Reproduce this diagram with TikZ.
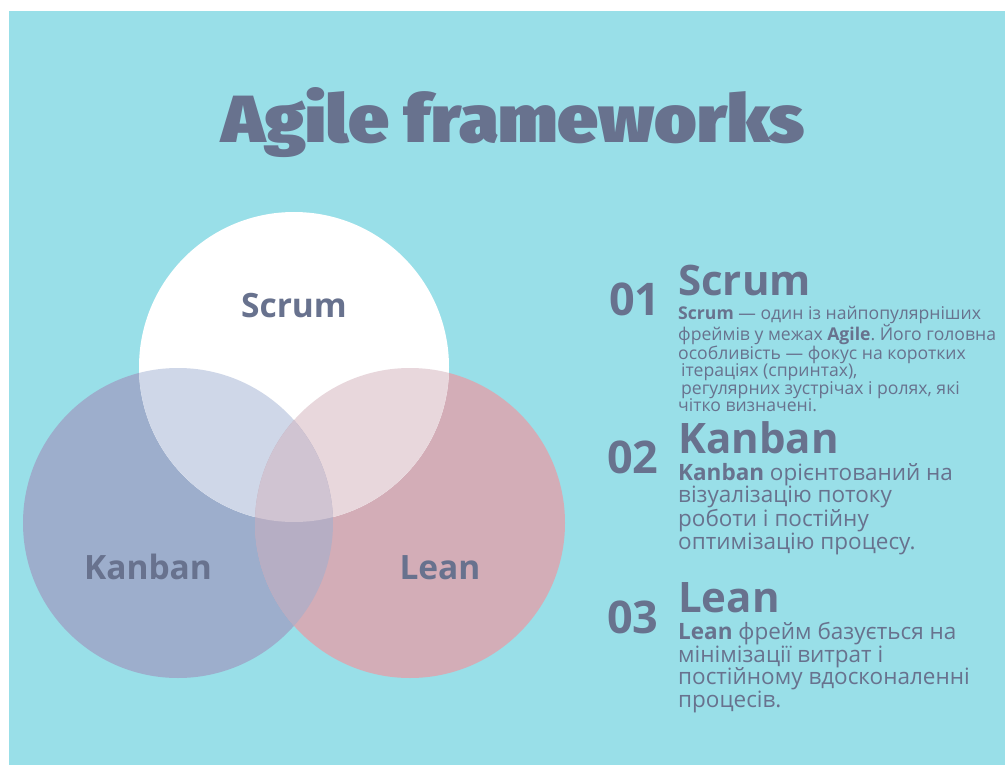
\documentclass[tikz,border=0pt]{standalone}
\usepackage{fontspec}
\usepackage{tikz}
\usetikzlibrary{positioning}
\setmainfont{Open Sans}
\frenchspacing
\IfFontExistsTF{Open Sans ExtraBold}
  {\newfontfamily\headfont{Open Sans ExtraBold}}
  {\newfontfamily\headfont{Open Sans}[UprightFont=* Bold]}
\IfFontExistsTF{Open Sans SemiBold}
  {\newfontfamily\semifont{Open Sans SemiBold}}
  {\newfontfamily\semifont{Open Sans}[UprightFont=* Bold]}
\IfFontExistsTF{Fira Sans Extra Condensed Black}
  {\newfontfamily\titlefont{Fira Sans Extra Condensed Black}}
  {\IfFontExistsTF{Fira Sans Condensed Black}
    {\newfontfamily\titlefont{Fira Sans Condensed Black}}
    {\IfFontExistsTF{Fira Sans Black}
      {\newfontfamily\titlefont{Fira Sans Black}}
      {\newfontfamily\titlefont{Open Sans ExtraBold}}}}
\newcommand{\kw}[1]{{\semifont #1}}

\definecolor{sky}{HTML}{99DFE8}
\definecolor{ink}{HTML}{68728E}
\definecolor{kanbanfill}{HTML}{9DAECC}
\definecolor{leanfill}{HTML}{D3ADB7}
\definecolor{sk}{HTML}{CFD7E8}
\definecolor{sl}{HTML}{E8D7DC}
\definecolor{kl}{HTML}{B6AEC4}
\definecolor{skl}{HTML}{D0C4D2}

\begin{document}
\begin{tikzpicture}[x=1pt,y=-1pt,
    every node/.style={inner sep=0pt,text=ink},
    title/.style={anchor=base,font=\titlefont\fontsize{72}{72}\selectfont},
    circlabel/.style={anchor=base,font=\bfseries\fontsize{33.5}{33.5}\selectfont},
    num/.style={anchor=base west,font=\headfont\fontsize{45}{45}\selectfont},
    head/.style={anchor=base west,font=\headfont\fontsize{42}{42}\selectfont},
    body/.style={anchor=north west,align=left,font=\fontsize{22.5}{22.6}\selectfont},
    smallbody/.style={body,font=\fontsize{17.6}{17.2}\selectfont}]
    \useasboundingbox (0,0) rectangle (1005,765);
    \fill[white] (0,0) rectangle (1005,765);
    \fill[sky] (9,11) rectangle (1005,765);

    % title
    \node[title] (title) at (513,143) {\resizebox{583pt}{55pt}{Agile frameworks}};

    % venn
    \coordinate (S) at (294,367);
    \coordinate (K) at (178,523);
    \coordinate (L) at (410,523);
    \fill[kanbanfill] (K) circle[radius=155pt];
    \fill[leanfill] (L) circle[radius=155pt];
    \fill[white] (S) circle[radius=155pt];
    \begin{scope}
        \clip (S) circle[radius=155pt];
        \fill[sk] (K) circle[radius=155pt];
        \fill[sl] (L) circle[radius=155pt];
    \end{scope}
    \begin{scope}
        \clip (K) circle[radius=155pt];
        \fill[kl] (L) circle[radius=155pt];
        \clip (S) circle[radius=155pt];
        \fill[skl] (L) circle[radius=155pt];
    \end{scope}
    \node[circlabel] (scrum)  at (294,317) {Scrum};
    \node[circlabel] (kanban) at (148,579) {Kanban};
    \node[circlabel] (lean)   at (440,579) {Lean};

    % list on the right
    \node[num]  (n1) at (609,315) {01};
    \node[head] (h1) at (678,295) {Scrum};
    \node[smallbody] (t1) at (678,306) {\kw{Scrum} — один із найпопулярніших\\
        фреймів у межах \kw{Agile}. Його головна\\
        особливість — фокус на коротких\\
        \hspace*{3pt}ітераціях (спринтах),\\
        \hspace*{3pt}регулярних зустрічах і ролях, які\\
        чітко визначені.};

    \node[num]  (n2) at (607,473) {02};
    \node[head] (h2) at (678,453) {Kanban};
    \node[body] (t2) at (678,463) {\kw{Kanban} орієнтований на\\
        візуалізацію потоку\\
        роботи і постійну\\
        оптимізацію процесу.};

    \node[num]  (n3) at (607,633) {03};
    \node[head] (h3) at (678,612) {Lean};
    \node[body] (t3) at (678,622) {\kw{Lean} фрейм базується на\\
        мінімізації витрат і\\
        постійному вдосконаленні\\
        процесів.};
\end{tikzpicture}
\end{document}
